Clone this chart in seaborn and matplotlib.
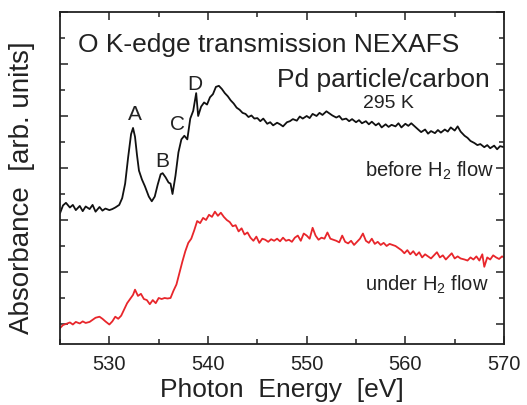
import numpy as np
import pandas as pd
import matplotlib
matplotlib.use("Agg")
import matplotlib.pyplot as plt
import seaborn as sns
from matplotlib.ticker import MultipleLocator

# ---- data ----
before_x = [525.0, 525.3, 525.6, 526.0, 526.3, 526.6, 527.0, 527.3, 527.6, 528.0, 528.3, 528.6,
            529.0, 529.3, 529.6, 530.0, 530.3, 530.6, 531.0, 531.3, 531.6, 531.9, 532.2, 532.4,
            532.6, 532.8, 533.0, 533.3, 533.6, 534.0, 534.3, 534.6, 534.9, 535.2, 535.4, 535.7,
            536.0, 536.2, 536.4, 536.7, 537.0, 537.3, 537.6, 537.9, 538.2, 538.5, 538.8, 539.0,
            539.3, 539.6, 539.9, 540.2, 540.5, 540.8, 541.1, 541.4, 541.7, 542.0, 542.3, 542.6,
            542.9, 543.2, 543.5, 543.8, 544.1, 544.4, 544.7, 545.0, 545.3, 545.6, 546.0, 546.3,
            546.6, 547.0, 547.3, 547.6, 548.0, 548.3, 548.6, 549.0, 549.3, 549.6, 550.0, 550.3,
            550.6, 551.0, 551.3, 551.6, 552.0, 552.3, 552.6, 553.0, 553.3, 553.6, 554.0, 554.3,
            554.6, 555.0, 555.3, 555.6, 556.0, 556.3, 556.6, 557.0, 557.3, 557.6, 558.0, 558.3,
            558.6, 559.0, 559.3, 559.6, 560.0, 560.3, 560.6, 561.0, 561.3, 561.6, 562.0, 562.3,
            562.6, 563.0, 563.3, 563.6, 564.0, 564.3, 564.6, 565.0, 565.3, 565.6, 566.0, 566.3,
            566.6, 567.0, 567.3, 567.6, 568.0, 568.3, 568.6, 569.0, 569.3, 569.6, 570.0]
before_y = [2.13, 2.28, 2.33, 2.24, 2.29, 2.19, 2.27, 2.17, 2.26, 2.21, 2.29, 2.16,
            2.25, 2.18, 2.22, 2.19, 2.21, 2.24, 2.29, 2.42, 2.70, 3.20, 3.65, 3.77,
            3.60, 3.25, 2.95, 2.78, 2.65, 2.45, 2.36, 2.45, 2.68, 2.88, 2.90, 2.82,
            2.72, 2.70, 2.50, 2.85, 3.30, 3.55, 3.62, 3.55, 3.95, 4.10, 4.44, 4.00,
            4.18, 4.26, 4.22, 4.36, 4.42, 4.56, 4.58, 4.52, 4.44, 4.38, 4.30, 4.24,
            4.16, 4.12, 4.06, 4.04, 3.98, 4.01, 3.95, 3.96, 3.90, 3.95, 3.85, 3.88,
            3.82, 3.87, 3.84, 3.80, 3.88, 3.90, 3.94, 3.91, 3.99, 3.95, 4.00, 3.96,
            4.04, 4.00, 4.06, 4.02, 4.09, 4.05, 4.01, 3.97, 4.00, 3.93, 3.95, 3.90,
            3.94, 3.88, 3.92, 3.86, 3.90, 3.84, 3.89, 3.82, 3.86, 3.78, 3.84, 3.79,
            3.83, 3.80, 3.86, 3.78, 3.85, 3.81, 3.86, 3.79, 3.74, 3.69, 3.74, 3.66,
            3.71, 3.67, 3.73, 3.68, 3.74, 3.70, 3.78, 3.72, 3.80, 3.70, 3.62, 3.58,
            3.52, 3.48, 3.44, 3.46, 3.40, 3.44, 3.38, 3.43, 3.36, 3.42, 3.40]

under_x = [525.0, 525.3, 525.6, 526.0, 526.3, 526.6, 527.0, 527.3, 527.6, 528.0, 528.3, 528.6,
           529.0, 529.3, 529.6, 530.0, 530.3, 530.6, 530.9, 531.2, 531.5, 531.8, 532.1, 532.4,
           532.6, 532.9, 533.2, 533.5, 533.8, 534.1, 534.4, 534.7, 535.0, 535.3, 535.6, 535.9,
           536.2, 536.5, 536.8, 537.1, 537.4, 537.7, 538.0, 538.3, 538.6, 538.9, 539.2, 539.5,
           539.8, 540.1, 540.4, 540.7, 541.0, 541.3, 541.6, 541.9, 542.2, 542.5, 542.8, 543.1,
           543.4, 543.7, 544.0, 544.3, 544.6, 544.9, 545.2, 545.5, 545.8, 546.1, 546.4, 546.7,
           547.0, 547.3, 547.6, 547.9, 548.2, 548.5, 548.8, 549.1, 549.4, 549.7, 550.0, 550.3,
           550.6, 550.9, 551.2, 551.5, 551.8, 552.1, 552.4, 552.7, 553.0, 553.3, 553.6, 553.9,
           554.2, 554.5, 554.8, 555.1, 555.4, 555.7, 556.0, 556.3, 556.6, 556.9, 557.2, 557.5,
           557.8, 558.1, 558.4, 558.7, 559.0, 559.3, 559.6, 559.9, 560.2, 560.5, 560.8, 561.1,
           561.4, 561.7, 562.0, 562.3, 562.6, 562.9, 563.2, 563.5, 563.8, 564.1, 564.4, 564.7,
           565.0, 565.3, 565.6, 566.0, 566.3, 566.6, 566.9, 567.2, 567.5, 567.8, 568.0, 568.3,
           568.6, 568.9, 569.2, 569.5, 569.8, 570.0]
under_y = [-0.08, -0.02, 0.00, 0.03, -0.01, 0.04, 0.01, 0.05, 0.02, 0.04, 0.08, 0.12,
           0.14, 0.10, 0.05, -0.01, 0.05, 0.14, 0.10, 0.16, 0.28, 0.40, 0.48, 0.56,
           0.66, 0.54, 0.58, 0.48, 0.46, 0.38, 0.46, 0.40, 0.50, 0.48, 0.50, 0.49,
           0.50, 0.64, 0.76, 0.98, 1.20, 1.40, 1.56, 1.64, 1.80, 1.98, 1.94, 2.04,
           2.00, 2.10, 2.06, 2.16, 2.08, 2.14, 2.06, 2.00, 1.96, 1.88, 1.90, 1.78,
           1.84, 1.72, 1.76, 1.66, 1.60, 1.68, 1.56, 1.64, 1.62, 1.58, 1.63, 1.60,
           1.64, 1.59, 1.66, 1.60, 1.62, 1.58, 1.66, 1.70, 1.60, 1.74, 1.70, 1.64,
           1.85, 1.70, 1.62, 1.66, 1.64, 1.76, 1.64, 1.62, 1.60, 1.57, 1.70, 1.58,
           1.55, 1.60, 1.52, 1.58, 1.64, 1.74, 1.60, 1.56, 1.64, 1.54, 1.58, 1.52,
           1.56, 1.50, 1.54, 1.52, 1.50, 1.46, 1.42, 1.36, 1.42, 1.34, 1.40, 1.32,
           1.38, 1.28, 1.34, 1.30, 1.26, 1.32, 1.38, 1.28, 1.32, 1.24, 1.30, 1.36,
           1.26, 1.30, 1.26, 1.24, 1.22, 1.28, 1.24, 1.30, 1.22, 1.34, 1.10, 1.28,
           1.24, 1.32, 1.28, 1.25, 1.30, 1.28]

x_ticks = [530, 540, 550, 560, 570]
x_tick_labels = ["530", "540", "550", "560", "570"]

peak_labels = ["A", "B", "C", "D"]
peak_label_x = [532.6, 535.4, 536.95, 538.7]
peak_label_y = [4.03, 3.13, 3.84, 4.61]

# ---- style ----
sns.set_style("ticks")
plt.rcParams["font.family"] = ["Liberation Sans", "DejaVu Sans"]
plt.rcParams["mathtext.fontset"] = "custom"
plt.rcParams["mathtext.rm"] = "Liberation Sans"
plt.rcParams["mathtext.it"] = "Liberation Sans"

TXT = "#222222"

fig = plt.figure(figsize=(5.27, 4.05), dpi=100)
ax = fig.add_axes([0.1139, 0.1506, 0.9564 - 0.1139, 0.9704 - 0.1506])

df_before = pd.DataFrame({"energy": before_x, "absorbance": before_y})
df_under = pd.DataFrame({"energy": under_x, "absorbance": under_y})

sns.lineplot(data=df_before, x="energy", y="absorbance", ax=ax, color="#111111",
             linewidth=1.3, estimator=None, sort=False)
sns.lineplot(data=df_under, x="energy", y="absorbance", ax=ax, color="#e8262b",
             linewidth=1.3, estimator=None, sort=False)

ax.set_xlim(525, 570)
ax.set_ylim(-0.385, 6.0)
ax.set_xticks(x_ticks)
ax.set_xticklabels(x_tick_labels)
ax.xaxis.set_minor_locator(MultipleLocator(5))
ax.yaxis.set_major_locator(MultipleLocator(1))
ax.yaxis.set_minor_locator(MultipleLocator(0.5))
ax.tick_params(axis="both", which="both", direction="in", top=True, right=True,
               width=1.1, colors=TXT)
ax.tick_params(axis="both", which="major", length=6)
ax.tick_params(axis="both", which="minor", length=3.5)
ax.tick_params(axis="x", labelsize=14.5, pad=8)
ax.tick_params(axis="y", labelleft=False)
for s in ax.spines.values():
    s.set_linewidth(1.3)
    s.set_color(TXT)

ax.set_xlabel("Photon  Energy  [eV]", fontsize=19, color=TXT, labelpad=3)
ax.set_ylabel("Absorbance  [arb. units]", fontsize=20, color=TXT)
ax.yaxis.set_label_coords(-0.056, 0.472)

ax.text(526.8, 5.37, "O K-edge transmission NEXAFS", fontsize=19, ha="left", va="center",
        color=TXT)
ax.text(568.6, 4.70, "Pd particle/carbon", fontsize=19, ha="right", va="center",
        color=TXT)
ax.text(558.3, 4.24, "295 K", fontsize=14, ha="center", va="center", color=TXT)
for lab, lx, ly in zip(peak_labels, peak_label_x, peak_label_y):
    ax.text(lx, ly, lab, fontsize=15, ha="center", va="center", color=TXT)
ax.text(569.0, 2.94, "before H$_2$ flow", fontsize=14.5, ha="right", va="center",
        color=TXT)
ax.text(568.4, 0.76, "under H$_2$ flow", fontsize=14.5, ha="right", va="center",
        color=TXT)

fig.savefig("out.png", dpi=100)
